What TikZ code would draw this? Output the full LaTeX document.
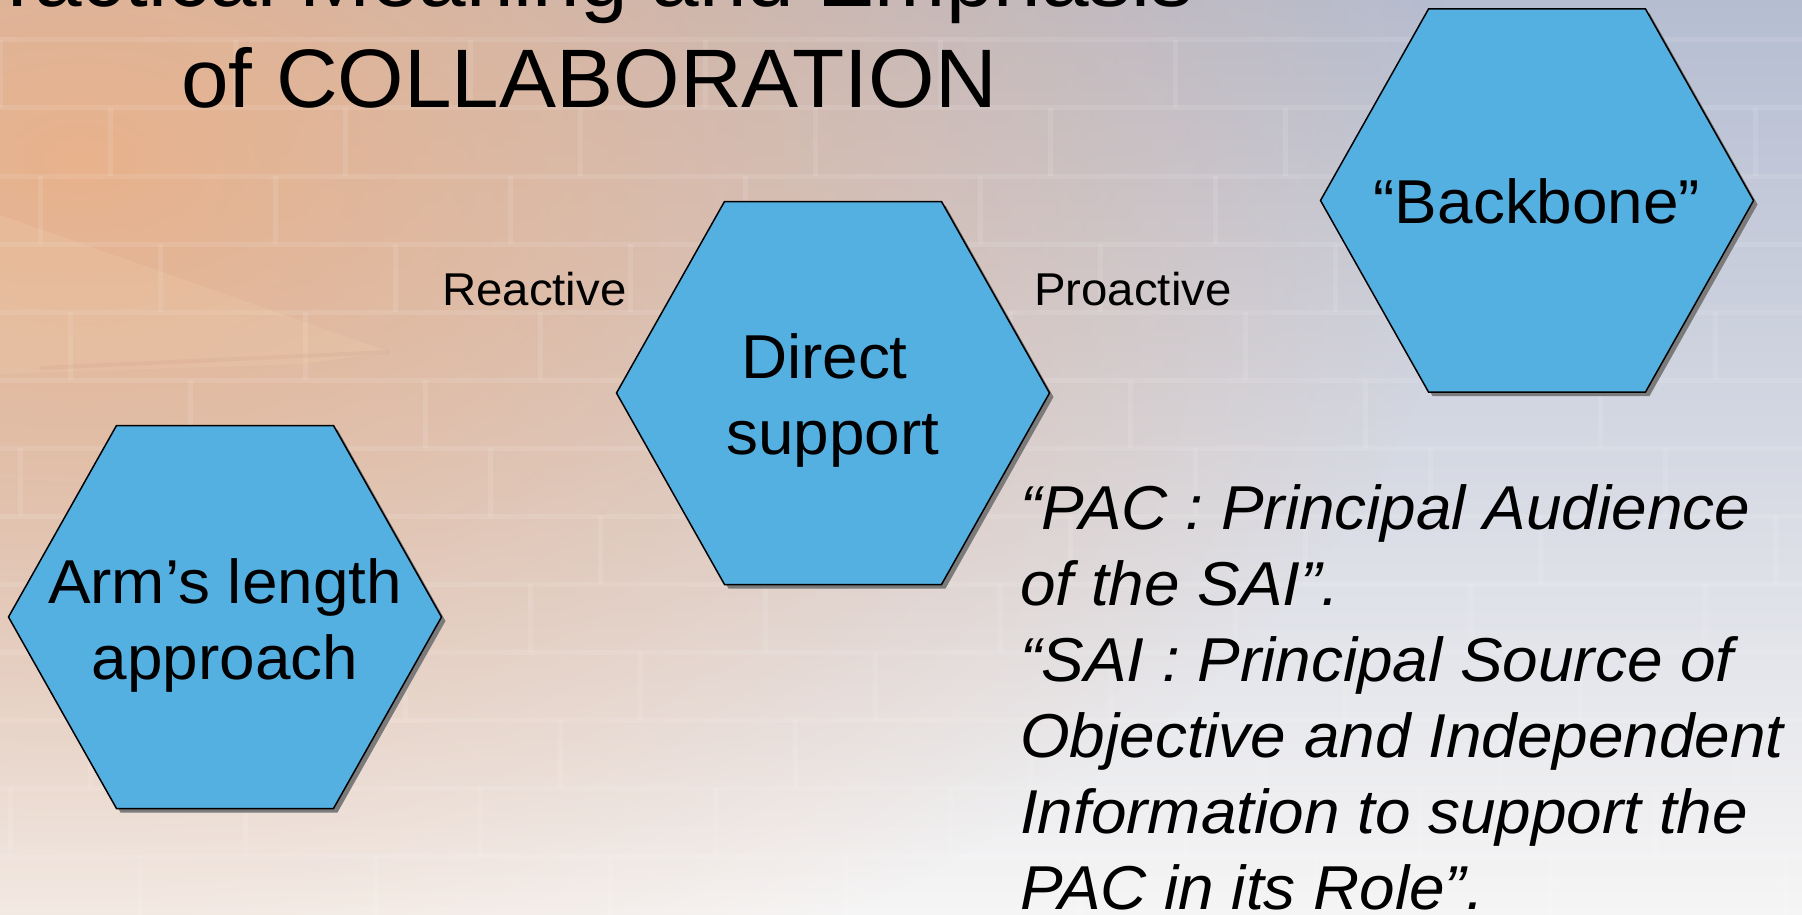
\documentclass[tikz,border=0pt]{standalone}
\usepackage{fontspec}
\setmainfont{Liberation Sans}[FakeStretch=1.03]
\usetikzlibrary{fadings}
\definecolor{hexblue}{HTML}{55B0E2}
\definecolor{peach}{HTML}{E8B28C}
\definecolor{bgtop}{HTML}{B5BDD1}
\definecolor{bgmid}{HTML}{D0D3DE}
\definecolor{bgbot}{HTML}{F6F5F5}
\definecolor{hexshadow}{HTML}{7B7B7B}
\definecolor{pencilwood}{HTML}{F3D5B2}
\definecolor{pencilline}{HTML}{C8957E}
\tikzfading[name=warmfade, inner color=transparent!0, outer color=transparent!100]
\newcommand{\ystrut}{\rule[-0.25em]{0pt}{1.05em}}
\tikzset{
  hexbody/.style={fill=hexblue, draw=black, line width=1.5pt, line join=miter},
  hexshade/.style={fill=hexshadow},
  hexa/.pic={
    \fill[hexshade] (4,4) +(-216.5,0) -- +(-108.5,-191.5) -- +(108.5,-191.5) -- +(216.5,0) -- +(108.5,191.5) -- +(-108.5,191.5) -- cycle;
    \path[hexbody] (0,0) +(-216.5,0) -- +(-108.5,-191.5) -- +(108.5,-191.5) -- +(216.5,0) -- +(108.5,191.5) -- +(-108.5,191.5) -- cycle;
  },
  hextext/.style={inner sep=0pt, align=center, font=\fontsize{62}{76}\selectfont},
  titletext/.style={inner sep=0pt, align=left, font=\fontsize{83}{101}\selectfont},
  sidelabel/.style={inner sep=0pt, font=\fontsize{46}{55}\selectfont},
  notetext/.style={inner sep=0pt, align=left, font=\fontsize{62}{76}\selectfont\itshape},
  gridline/.style={draw=white, draw opacity=0.10, line width=5pt}
}
\begin{document}
\begin{tikzpicture}[x=1pt,y=-1pt]
\useasboundingbox (0,0) rectangle (1802,915);
\begin{scope}
  \clip (0,0) rectangle (1802,915);
  % background
  \shade[top color=bgtop, middle color=bgmid, bottom color=bgbot] (0,0) rectangle (1802,915);
  \fill[peach, path fading=warmfade, fit fading=true] (80,160) ellipse [x radius=1400, y radius=900];
  % faint grid pattern
  \foreach \yy/\off in {40/0, 108/110, 176/40, 244/160, 312/70, 380/190, 448/20, 516/130, 584/60, 652/170, 720/90, 788/10, 856/140}{
    \draw[gridline] (0,\yy) -- (1802,\yy);
    \foreach \k in {0,...,7}{
      \draw[gridline] (\off+\k*235,\yy) -- (\off+\k*235,\yy+68);
    }
  }
  % pencil streak
  \fill[pencilwood, opacity=0.2] (0,215) -- (390,352) -- (300,364) -- (0,374) -- cycle;
  \draw[pencilline, opacity=0.15, line width=4pt] (40,368) -- (390,352);
\end{scope}

% title
\node[titletext, anchor=north west] (title) at (-9,-60.4)
  {\ystrut Tactical Meaning and Emphasis\\\hspace*{190pt}\ystrut of COLLABORATION};

% hexagons
\pic (armhex) at (225,617) {hexa};
\pic (directhex) at (833,393) {hexa};
\pic (backbonehex) at (1537,200.5) {hexa};

\node[hextext, anchor=north] (arm) at (225,553.4)
  {\ystrut Arm’s length\\\ystrut approach};
\node[hextext, anchor=north] (direct) at (833,328.4)
  {\ystrut Direct\hspace*{0.278em}\\\ystrut support};
\node[hextext, anchor=north] (backbone) at (1537,173.4)
  {\ystrut “Backbone”};

% side labels
\node[sidelabel, anchor=base west] (reactive) at (442,305) {Reactive};
\node[sidelabel, anchor=base west] (proactive) at (1034,305) {Proactive};

% italic note
\node[notetext, anchor=north west] (note) at (1020,479.4)
  {\ystrut “PAC : Principal Audience\\
   \ystrut of the SAI”.\\
   \ystrut “SAI : Principal Source of\\
   \ystrut Objective and Independent\\
   \ystrut Information to support the\\
   \ystrut PAC in its Role”.};
\end{tikzpicture}
\end{document}
